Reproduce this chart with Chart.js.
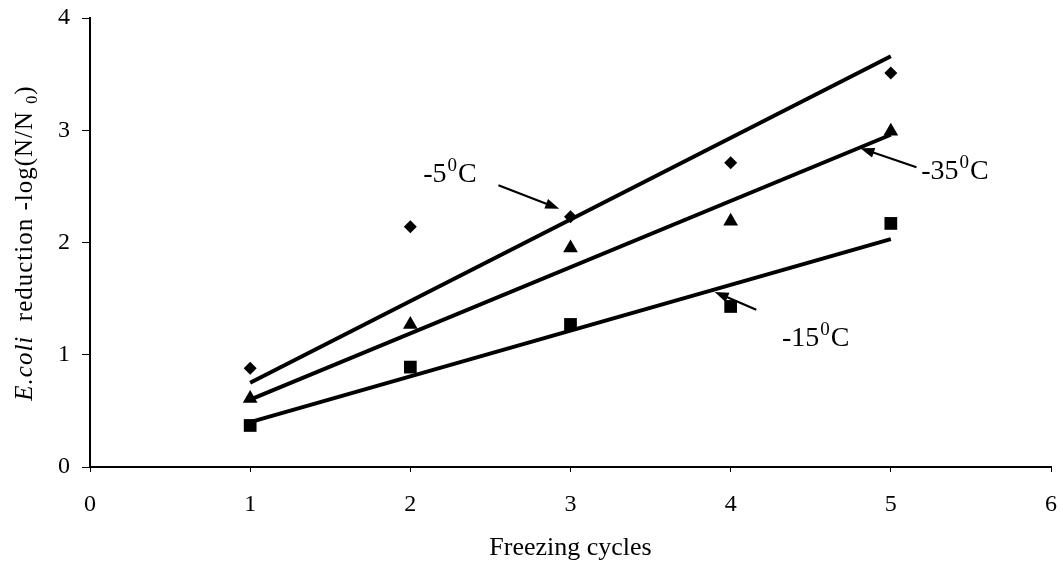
<!DOCTYPE html>
<html>
<head>
<meta charset="utf-8">
<script src="https://cdn.jsdelivr.net/npm/chart.js@4"></script>
<style>
  body { margin: 0; background: #fff; }
  canvas { display: block; }
</style>
</head>
<body>
<canvas id="chart" width="1063" height="573"></canvas>
<script>
// freezing cycles and E.coli reduction
const cycles = [1, 2, 3, 4, 5];
const minus5 = [0.88, 2.14, 2.23, 2.71, 3.51];
const minus15 = [0.37, 0.89, 1.27, 1.43, 2.17];
const minus35 = [0.61, 1.27, 1.95, 2.19, 2.99];

// fitted lines, ends at cycle 1 and 5
const fitX = [1, 5];
const fit5 = [0.75, 3.66];
const fit15 = [0.40, 2.03];
const fit35 = [0.60, 2.96];

const xTicks = [0, 1, 2, 3, 4, 5, 6];
const yTicks = [0, 1, 2, 3, 4];

// labels with arrows: text at (tx,ty), arrow from (ax,ay) to (bx,by), in data units
const notes = [
  { label: '-5', tx: 2.08, ty: 2.54, ax: 2.55, ay: 2.51, bx: 2.93, by: 2.30 },
  { label: '-35', tx: 5.19, ty: 2.57, ax: 5.16, ay: 2.67, bx: 4.81, by: 2.84 },
  { label: '-15', tx: 4.32, ty: 1.08, ax: 4.16, ay: 1.40, bx: 3.90, by: 1.56 }
];

const serif = 'Liberation Serif';

function pts(xs, ys) {
  return xs.map((x, i) => ({ x: x, y: ys[i] }));
}

function fitSet(ys) {
  return {
    data: pts(fitX, ys),
    showLine: true,
    borderColor: '#000',
    borderWidth: 4,
    pointRadius: 0
  };
}

function markSet(ys, style, r) {
  return {
    data: pts(cycles, ys),
    showLine: false,
    pointStyle: style,
    pointRadius: r,
    backgroundColor: '#000',
    borderColor: '#000',
    borderWidth: 0
  };
}

const yTitle = {
  id: 'yTitle',
  afterDraw(chart) {
    const ctx = chart.ctx;
    const parts = [
      { t: 'E.coli', f: 'italic 25px ' + serif, dy: 0 },
      { t: '  reduction -log(N/N ', f: '25px ' + serif, dy: 0 },
      { t: '0', f: '16px ' + serif, dy: 5 },
      { t: ')', f: '25px ' + serif, dy: 0 }
    ];
    ctx.save();
    ctx.letterSpacing = '1px';
    let total = 0;
    parts.forEach(p => { ctx.font = p.f; p.w = ctx.measureText(p.t).width; total += p.w; });
    ctx.translate(32, 243);
    ctx.rotate(-Math.PI / 2);
    ctx.fillStyle = '#000';
    ctx.textBaseline = 'alphabetic';
    let x = -total / 2;
    parts.forEach(p => {
      ctx.font = p.f;
      ctx.fillText(p.t, x, p.dy);
      x += p.w;
    });
    ctx.restore();
  }
};

const arrows = {
  id: 'arrows',
  afterDatasetsDraw(chart) {
    const ctx = chart.ctx;
    const xs = chart.scales.x, ys = chart.scales.y;
    ctx.save();
    ctx.fillStyle = '#000';
    ctx.strokeStyle = '#000';
    notes.forEach(n => {
      const x0 = xs.getPixelForValue(n.ax), y0 = ys.getPixelForValue(n.ay);
      const x1 = xs.getPixelForValue(n.bx), y1 = ys.getPixelForValue(n.by);
      const ang = Math.atan2(y1 - y0, x1 - x0);
      const hl = 14, hw = 5;
      ctx.lineWidth = 2.2;
      ctx.beginPath();
      ctx.moveTo(x0, y0);
      ctx.lineTo(x1 - Math.cos(ang) * hl * 0.8, y1 - Math.sin(ang) * hl * 0.8);
      ctx.stroke();
      ctx.beginPath();
      ctx.moveTo(x1, y1);
      ctx.lineTo(x1 - Math.cos(ang) * hl - Math.sin(ang) * hw, y1 - Math.sin(ang) * hl + Math.cos(ang) * hw);
      ctx.lineTo(x1 - Math.cos(ang) * hl + Math.sin(ang) * hw, y1 - Math.sin(ang) * hl - Math.cos(ang) * hw);
      ctx.closePath();
      ctx.fill();

      // "-5⁰C" style label
      let tx = xs.getPixelForValue(n.tx);
      const ty = ys.getPixelForValue(n.ty);
      ctx.textBaseline = 'alphabetic';
      ctx.font = '28px ' + serif;
      ctx.fillText(n.label, tx, ty);
      tx += ctx.measureText(n.label).width + 1;
      ctx.font = '19px ' + serif;
      ctx.fillText('0', tx, ty - 11);
      tx += ctx.measureText('0').width + 1;
      ctx.font = '28px ' + serif;
      ctx.fillText('C', tx, ty);
    });
    ctx.restore();
  }
};

new Chart(document.getElementById('chart'), {
  type: 'scatter',
  data: {
    datasets: [
      fitSet(fit5),
      fitSet(fit35),
      fitSet(fit15),
      markSet(minus5, 'rectRot', 6.5),
      markSet(minus35, 'triangle', 8.5),
      markSet(minus15, 'rect', 9)
    ]
  },
  options: {
    responsive: false,
    animation: false,
    devicePixelRatio: 1,
    layout: { padding: { top: 18, right: 12, left: 0, bottom: 0 } },
    plugins: {
      legend: { display: false },
      tooltip: { enabled: false }
    },
    scales: {
      x: {
        type: 'linear',
        min: xTicks[0],
        max: xTicks[xTicks.length - 1],
        afterBuildTicks: axis => { axis.ticks = xTicks.map(v => ({ value: v })); },
        afterFit: axis => {
          axis.height = 106;
          axis.paddingLeft = 0;
          axis.paddingRight = 0;
        },
        border: { display: true, color: '#000', width: 2 },
        grid: { drawOnChartArea: false, drawTicks: true, tickLength: 5, color: '#000', tickColor: '#000' },
        ticks: { color: '#000', padding: 18, font: { family: serif, size: 24 }, maxRotation: 0 },
        title: {
          display: true,
          text: 'Freezing cycles',
          color: '#000',
          font: { family: serif, size: 26 },
          padding: { top: 0, bottom: 9 }
        }
      },
      y: {
        type: 'linear',
        min: yTicks[0],
        max: yTicks[yTicks.length - 1],
        afterBuildTicks: axis => { axis.ticks = yTicks.map(v => ({ value: v })); },
        afterFit: axis => {
          axis.width = 90;
          axis.paddingTop = 0;
          axis.paddingBottom = 0;
        },
        border: { display: true, color: '#000', width: 2 },
        grid: { drawOnChartArea: false, drawTicks: true, tickLength: 8, color: '#000', tickColor: '#000' },
        ticks: { color: '#000', padding: 12, font: { family: serif, size: 24 } }
      }
    }
  },
  plugins: [yTitle, arrows]
});
</script>
</body>
</html>
